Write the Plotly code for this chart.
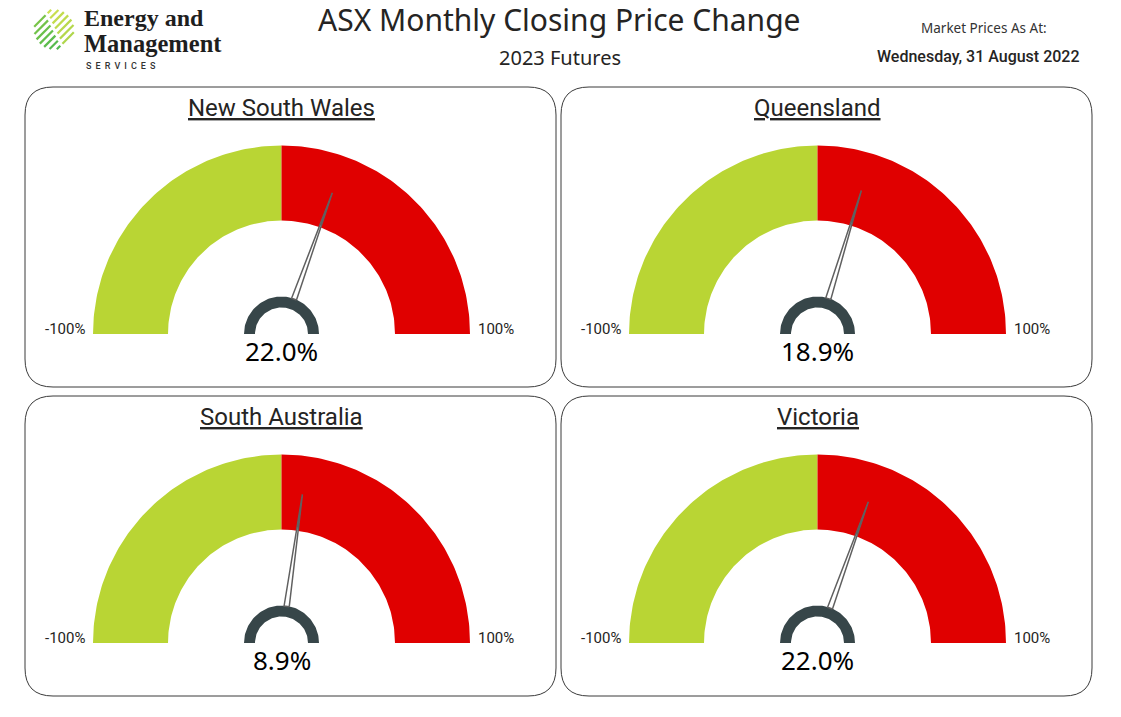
import numpy as np
import plotly.graph_objects as go

W, H = 1121, 717

# data
regions = ["New South Wales", "Queensland", "South Australia", "Victoria"]
changes = [22.0, 18.9, 8.9, 22.0]
band_edges = [-100, 0, 100]
band_colors = ["#b9d534", "#e00000"]
scale_labels = ["-100%", "100%"]
market_date = "Wednesday, 31 August 2022"

# panel grid (pixels)
panel_x = [25, 561]
panel_y = [87, 396]
panel_w, panel_h = 531, 300
corner = 28

# gauge geometry (pixels)
r_inner, r_outer = 113.5, 188.5
hub_inner, hub_outer = 26.5, 37.5
needle_base, needle_tip, needle_half = 37, 150, 2.6

TEXT = "#252423"


def ang(v):
    # -100 -> left, 0 -> up, 100 -> right
    return np.deg2rad(90 - v * 0.9)


def band(cx, cy, r0, r1, v0, v1, n=90):
    t = ang(np.linspace(v0, v1, n))
    xs = np.concatenate([cx + r1 * np.cos(t), cx + r0 * np.cos(t[::-1])])
    ys = np.concatenate([cy - r1 * np.sin(t), cy - r0 * np.sin(t[::-1])])
    return np.append(xs, xs[0]), np.append(ys, ys[0])


def needle(cx, cy, v):
    t = ang(v)
    ux, uy = np.cos(t), -np.sin(t)
    px, py = -uy, ux
    bx, by = cx + needle_base * ux, cy + needle_base * uy
    tx, ty = cx + needle_tip * ux, cy + needle_tip * uy
    xs = [bx + needle_half * px, tx, bx - needle_half * px, bx + needle_half * px]
    ys = [by + needle_half * py, ty, by - needle_half * py, by + needle_half * py]
    return xs, ys


def rounded_box(x0, y0, w, h, r):
    x1, y1 = x0 + w, y0 + h
    return (
        f"M {x0 + r},{y0} L {x1 - r},{y0} Q {x1},{y0} {x1},{y0 + r} "
        f"L {x1},{y1 - r} Q {x1},{y1} {x1 - r},{y1} "
        f"L {x0 + r},{y1} Q {x0},{y1} {x0},{y1 - r} "
        f"L {x0},{y0 + r} Q {x0},{y0} {x0 + r},{y0} Z"
    )


fig = go.Figure()
shapes = []
annotations = []

for i, (name, val) in enumerate(zip(regions, changes)):
    px0 = panel_x[i % 2]
    py0 = panel_y[i // 2]
    cx, cy = px0 + 256.5, py0 + 247

    shapes.append(dict(type="path", path=rounded_box(px0, py0, panel_w, panel_h, corner),
                       line=dict(color="#3a3a3a", width=1), layer="below"))

    for k, col in enumerate(band_colors):
        xs, ys = band(cx, cy, r_inner, r_outer, band_edges[k], band_edges[k + 1])
        fig.add_trace(go.Scatter(x=xs, y=ys, mode="lines", fill="toself", fillcolor=col,
                                 line=dict(width=0, color=col), hoverinfo="skip"))

    xs, ys = band(cx, cy, hub_inner, hub_outer, band_edges[0], band_edges[-1])
    fig.add_trace(go.Scatter(x=xs, y=ys, mode="lines", fill="toself", fillcolor="#374649",
                             line=dict(width=0, color="#374649"), hoverinfo="skip"))

    xs, ys = needle(cx, cy, val)
    fig.add_trace(go.Scatter(x=xs, y=ys, mode="lines", fill="toself", fillcolor="white",
                             line=dict(width=1.5, color="#606060"), hoverinfo="skip"))

    annotations.append(dict(x=cx, y=py0 + 21, text=f"<u>{name}</u>", showarrow=False,
                            font=dict(family="Roboto", size=24, color=TEXT)))
    annotations.append(dict(x=cx, y=py0 + 264, text=f"{val:.1f}%", showarrow=False,
                            font=dict(family="Noto Sans", size=26, color="#000000")))
    annotations.append(dict(x=cx - r_outer - 6, y=py0 + 242, text=scale_labels[0],
                            xanchor="right", showarrow=False,
                            font=dict(family="Roboto", size=15, color=TEXT)))
    annotations.append(dict(x=cx + r_outer + 6, y=py0 + 242, text=scale_labels[1],
                            xanchor="left", showarrow=False,
                            font=dict(family="Roboto", size=15, color=TEXT)))

# header
annotations += [
    dict(x=559, y=19, text="ASX Monthly Closing Price Change", showarrow=False,
         font=dict(family="Noto Sans", size=30, color=TEXT)),
    dict(x=560, y=57, text="2023 Futures", showarrow=False,
         font=dict(family="Noto Sans", size=20, color=TEXT)),
    dict(x=984, y=28, text="Market Prices As At:", showarrow=False,
         font=dict(family="Noto Sans", size=13.5, color="#333333")),
    dict(x=978, y=56, text=market_date, showarrow=False,
         font=dict(family="Roboto", size=16, color=TEXT, weight=500)),
    dict(x=82, y=18, text="<b>Energy and</b>", xanchor="left", showarrow=False,
         font=dict(family="Liberation Serif", size=24, color="#1e1e1e")),
    dict(x=82, y=43, text="<b>Management</b>", xanchor="left", showarrow=False,
         font=dict(family="Liberation Serif", size=24.5, color="#1e1e1e")),
    dict(x=84, y=66, text="\u00a0\u2009".join("SERVICES"), xanchor="left", showarrow=False,
         font=dict(family="Roboto", size=9, color="#333333", weight=500)),
]

# logo stripes: each split in two, lighter at the upper right
lcx, lcy, lr = 54, 29.5, 20
offsets = np.linspace(-16, 16, 7)
for j, d in enumerate(offsets):
    half = np.sqrt(lr ** 2 - d ** 2)
    mx, my = lcx + d / np.sqrt(2), lcy + d / np.sqrt(2)
    ux, uy = 1 / np.sqrt(2), -1 / np.sqrt(2)
    split = -d * 0.35
    g = j / (len(offsets) - 1)
    lower = f"rgb({int(120 - 40 * g)},{int(196 - 10 * g)},{int(72 + 8 * g)})"
    upper = f"rgb({int(205 - 30 * g)},{int(224 - 10 * g)},{int(80 - 5 * g)})"
    shapes.append(dict(type="line", x0=mx - half * ux, y0=my - half * uy,
                       x1=mx + (split - 1.5) * ux, y1=my + (split - 1.5) * uy,
                       line=dict(color=lower, width=2.2)))
    shapes.append(dict(type="line", x0=mx + (split + 1.5) * ux, y0=my + (split + 1.5) * uy,
                       x1=mx + half * ux, y1=my + half * uy,
                       line=dict(color=upper, width=2.2)))

fig.update_layout(
    width=W, height=H, margin=dict(l=0, r=0, t=0, b=0),
    paper_bgcolor="white", plot_bgcolor="white", showlegend=False,
    xaxis=dict(range=[0, W], visible=False, fixedrange=True),
    yaxis=dict(range=[H, 0], visible=False, fixedrange=True),
    shapes=shapes, annotations=annotations,
)

fig.write_html("out.html", config={"displayModeBar": False},
               post_script="document.body.style.margin='0px';")
